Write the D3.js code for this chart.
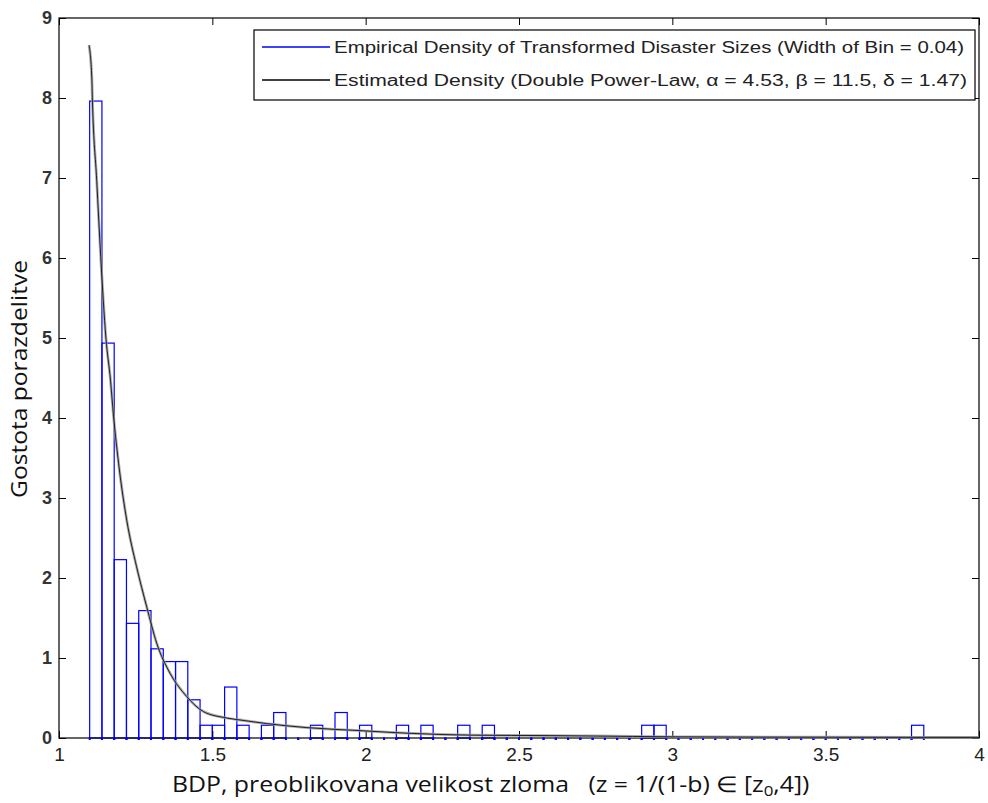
<!DOCTYPE html>
<html>
<head>
<meta charset="utf-8">
<script src="https://cdn.jsdelivr.net/npm/d3@7/dist/d3.min.js"></script>
<style>
  html, body { margin: 0; padding: 0; background: #fff; }
  svg { display: block; }
</style>
</head>
<body>
<svg id="chart" width="988" height="803"></svg>
<script>
// Histogram bins: left edges start at binStart, each binWidth wide; counts per bin
const binStart = 1.10;
const binWidth = 0.04;
const binCounts = [
  50, 31, 14, 9, 10, 7, 6, 6, 3, 1,
  1, 4, 1, 0, 1, 2, 0, 0, 1, 0,
  2, 0, 1, 0, 0, 1, 0, 1, 0, 0,
  1, 0, 1, 0, 0, 0, 0, 0, 0, 0,
  0, 0, 0, 0, 0, 1, 1, 0, 0, 0,
  0, 0, 0, 0, 0, 0, 0, 0, 0, 0,
  0, 0, 0, 0, 0, 0, 0, 1
];

// Fitted density curve (double power-law), sampled points
const curveX = [1.098, 1.107, 1.109, 1.123, 1.136, 1.153, 1.168, 1.177, 1.197, 1.221,
                1.253, 1.286, 1.319, 1.362, 1.416, 1.471, 1.547, 1.60, 1.677, 1.808,
                1.992, 2.134, 2.351, 2.60, 2.74, 3.0, 3.5, 4.0];
const curveY = [8.66, 8.25, 7.97, 6.97, 6.02, 5.0, 4.47, 4.06, 3.35, 2.72,
                2.14, 1.64, 1.18, 0.81, 0.52, 0.33, 0.25, 0.22, 0.18, 0.13,
                0.09, 0.06, 0.035, 0.03, 0.025, 0.015, 0.01, 0.008];

const xTicks = [1, 1.5, 2, 2.5, 3, 3.5, 4];
const xTickLabels = ["1", "1.5", "2", "2.5", "3", "3.5", "4"];
const yTicks = [0, 1, 2, 3, 4, 5, 6, 7, 8, 9];

const legendLabels = [
  "Empirical Density of Transformed Disaster Sizes (Width of Bin = 0.04)",
  "Estimated Density (Double Power-Law, \u03b1 = 4.53, \u03b2 = 11.5, \u03b4 = 1.47)"
];

const svg = d3.select("#chart");
const L = 59, R = 979, T = 18, B = 738;

const x = d3.scaleLinear().domain([1, 4]).range([L, R]);
const y = d3.scaleLinear().domain([0, 9]).range([B, T]);

const total = d3.sum(binCounts);
const bins = binCounts.map((c, i) => ({
  x0: binStart + i * binWidth,
  x1: binStart + (i + 1) * binWidth,
  d: c / (total * binWidth)
}));

// Plot background
svg.append("rect").attr("x", L).attr("y", T).attr("width", R - L).attr("height", B - T)
  .attr("fill", "#fff");

// Histogram bars (outline only)
svg.append("g").selectAll("rect").data(bins.filter(b => b.d > 0)).join("rect")
  .attr("x", d => x(d.x0))
  .attr("y", d => y(d.d))
  .attr("width", d => x(d.x1) - x(d.x0))
  .attr("height", d => y(0) - y(d.d))
  .attr("fill", "none")
  .attr("stroke", "#0000ff")
  .attr("stroke-width", 1.2);

// Axes with inward ticks on all four sides
const tickLen = 7;
const axG = svg.append("g");

// bottom
axG.append("g").attr("transform", `translate(0,${B})`)
  .call(d3.axisBottom(x).tickValues(xTicks).tickSize(-tickLen).tickFormat((d, i) => xTickLabels[i]).tickPadding(10))
  .call(g => g.select(".domain").remove())
  .call(g => g.selectAll("text").attr("font-size", 19).attr("fill", "#222")
    .attr("font-family", "'Liberation Sans', Arial, sans-serif"))
  .call(g => g.selectAll("line").attr("stroke", "#000"));
// top
axG.append("g").attr("transform", `translate(0,${T})`)
  .call(d3.axisTop(x).tickValues(xTicks).tickSize(-tickLen).tickFormat(""))
  .call(g => g.select(".domain").remove())
  .call(g => g.selectAll("line").attr("stroke", "#000"));
// left
axG.append("g").attr("transform", `translate(${L},0)`)
  .call(d3.axisLeft(y).tickValues(yTicks).tickSize(-tickLen).tickFormat(d3.format("d")).tickPadding(7))
  .call(g => g.select(".domain").remove())
  .call(g => g.selectAll("text").attr("font-size", 18).attr("font-weight", "bold").attr("fill", "#333")
    .attr("font-family", "'Liberation Sans', Arial, sans-serif"))
  .call(g => g.selectAll("line").attr("stroke", "#000"));
// right
axG.append("g").attr("transform", `translate(${R},0)`)
  .call(d3.axisRight(y).tickValues(yTicks).tickSize(-tickLen).tickFormat(""))
  .call(g => g.select(".domain").remove())
  .call(g => g.selectAll("line").attr("stroke", "#000"));

// Frame
svg.append("rect").attr("x", L).attr("y", T).attr("width", R - L).attr("height", B - T)
  .attr("fill", "none").attr("stroke", "#000").attr("stroke-width", 1.2);

// Zero-height bins show as blue marks along the baseline
svg.append("g").selectAll("rect").data(bins.flatMap(b => [b.x0, b.x1])).join("rect")
  .attr("x", d => x(d) - 1)
  .attr("y", B - 0.5)
  .attr("width", 2)
  .attr("height", 2.5)
  .attr("fill", "#0000ff");

// Density curve: soft grey underlay plus black core
const line = d3.line().x((d, i) => x(curveX[i])).y(d => y(d)).curve(d3.curveMonotoneX);
svg.append("path").datum(curveY).attr("d", line)
  .attr("fill", "none").attr("stroke", "#9a9a9a").attr("stroke-width", 2.8).attr("stroke-opacity", 0.8);
svg.append("path").datum(curveY).attr("d", line)
  .attr("fill", "none").attr("stroke", "#111").attr("stroke-width", 0.9);

// Legend
const lg = svg.append("g");
lg.append("rect").attr("x", 254).attr("y", 30).attr("width", 721).attr("height", 70)
  .attr("fill", "#fff").attr("stroke", "#000").attr("stroke-width", 1.2);
const legendColors = ["#0000ff", "#000"];
legendLabels.forEach((t, i) => {
  const ly = 47 + i * 33;
  lg.append("line").attr("x1", 262).attr("x2", 330).attr("y1", ly).attr("y2", ly)
    .attr("stroke", legendColors[i]).attr("stroke-width", 1.3);
  lg.append("text").attr("x", 334).attr("y", ly + 5.5)
    .attr("font-family", "'Liberation Sans', Arial, sans-serif")
    .attr("font-size", 16).attr("fill", "#222")
    .attr("textLength", i === 0 ? 630 : 633).attr("lengthAdjust", "spacingAndGlyphs")
    .text(t);
});

// Axis titles
const xt = svg.append("text").attr("x", 172).attr("y", 792)
  .attr("text-anchor", "start")
  .style("white-space", "pre")
  .attr("font-family", "'Open Sans', 'Noto Sans', sans-serif")
  .attr("font-size", 22).attr("fill", "#111");
xt.append("tspan").text("BDP, preoblikovana velikost zloma   (z = 1/(1-b) \u2208 [z");
xt.append("tspan").attr("font-size", 15).attr("dy", 4).text("0");
xt.append("tspan").attr("dy", -4).text(",4])");
// fit the title to its measured span
const xtW = xt.node().getComputedTextLength();
const targetW = 638;
if (xtW > 0) xt.attr("transform", `translate(172,0) scale(${targetW / xtW},1) translate(-172,0)`);

svg.append("text")
  .attr("transform", "translate(27,379) rotate(-90)")
  .attr("text-anchor", "middle")
  .attr("font-family", "'Open Sans', 'Noto Sans', sans-serif")
  .attr("font-size", 21).attr("fill", "#111")
  .attr("textLength", 238).attr("lengthAdjust", "spacingAndGlyphs")
  .text("Gostota porazdelitve");
</script>
</body>
</html>
